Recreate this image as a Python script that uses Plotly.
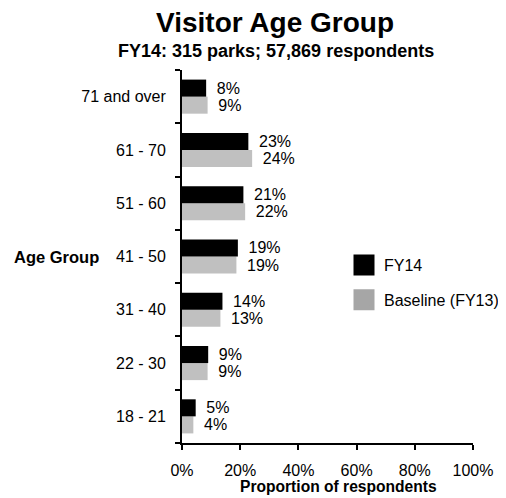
import plotly.graph_objects as go

categories = ["18 - 21", "22 - 30", "31 - 40", "41 - 50", "51 - 60", "61 - 70", "71 and over"]
fy14 = [4.7, 9.0, 13.9, 19.2, 21.1, 22.8, 8.3]
baseline = [3.9, 8.8, 13.2, 18.7, 21.7, 24.1, 8.8]
x_tickvals = [0, 20, 40, 60, 80, 100]
x_ticktext = ["0%", "20%", "40%", "60%", "80%", "100%"]

FONT = "Liberation Sans, Arial, sans-serif"
BAR_GRAY = "#C0C0C0"
LEG_GRAY = "#A6A6A6"

# page body has an 8px margin: figure is drawn at (8, 8) in the screenshot
OFF = 8
W, H = 506 - OFF, 498 - OFF
L, T = 182 - OFF, 70 - OFF
R, B = W - (473 - OFF), H - (443 - OFF)
PW, PH = W - L - R, H - T - B


def px_x(sx):
    return (sx - OFF - L) / PW


def px_y(sy):
    return (H - B - (sy - OFF)) / PH


label_tpl = "\u00a0\u2009%{x:.0f}%"

fig = go.Figure()
fig.add_trace(go.Bar(y=categories, x=baseline, orientation="h", name="Baseline (FY13)",
                     marker=dict(color=BAR_GRAY, line=dict(width=0)), showlegend=False,
                     texttemplate=label_tpl, textposition="outside", cliponaxis=False,
                     textfont=dict(size=16, color="black", family=FONT)))
fig.add_trace(go.Bar(y=categories, x=fy14, orientation="h", name="FY14",
                     marker=dict(color="black", line=dict(width=0)), showlegend=False,
                     texttemplate=label_tpl, textposition="outside", cliponaxis=False,
                     textfont=dict(size=16, color="black", family=FONT)))
# legend entries
fig.add_trace(go.Scatter(x=[None], y=[None], mode="markers", name="FY14", legendgroup="a",
                         marker=dict(symbol="square", size=16, color="black",
                                     line=dict(width=5, color="black"))))
fig.add_trace(go.Scatter(x=[None], y=[None], mode="markers", name="Baseline (FY13)", legendgroup="b",
                         marker=dict(symbol="square", size=16, color=LEG_GRAY,
                                     line=dict(width=5, color=LEG_GRAY))))

fig.update_layout(
    width=W, height=H,
    margin=dict(l=L, r=R, t=T, b=B, autoexpand=False),
    paper_bgcolor="white", plot_bgcolor="white",
    barmode="group", bargap=0.36, bargroupgap=0,
    font=dict(family=FONT, size=16, color="black"),
    showlegend=True,
    legend=dict(x=px_x(344), y=px_y(282.5), xanchor="left", yanchor="middle", traceorder="grouped",
                tracegroupgap=11, font=dict(size=16), bgcolor="rgba(0,0,0,0)"),
    xaxis=dict(range=[0, 100], tickvals=x_tickvals, ticktext=x_ticktext, showgrid=False, zeroline=False,
               showline=True, linecolor="black", linewidth=2, ticks="outside", ticklen=5,
               tickwidth=2, tickcolor="black", tickfont=dict(size=16), automargin=False,
               ticklabelstandoff=7),
    yaxis=dict(type="category", categoryorder="array", categoryarray=categories, showgrid=False,
               showline=True, linecolor="black", linewidth=2, ticks="outside", ticklen=5,
               tickwidth=2, tickcolor="black", tickson="boundaries", tickfont=dict(size=16),
               automargin=False, ticklabelstandoff=11),
    annotations=[
        dict(text="<b>Visitor Age Group</b>", x=px_x(275), y=px_y(22.5), xref="paper", yref="paper",
             xanchor="center", yanchor="middle", showarrow=False, font=dict(size=28)),
        dict(text="<b>FY14: 315 parks; 57,869 respondents</b>", x=px_x(276), y=px_y(51),
             xref="paper", yref="paper", xanchor="center", yanchor="middle", showarrow=False,
             font=dict(size=18)),
        dict(text="<b>Age Group</b>", x=px_x(56), y="41 - 50", xref="paper", yref="y",
             xanchor="center", yanchor="middle", showarrow=False, font=dict(size=16.5)),
        dict(text="<b>Proportion of respondents</b>", x=px_x(338.5), y=px_y(486), xref="paper",
             yref="paper", xanchor="center", yanchor="middle", showarrow=False, font=dict(size=15.6)),
    ],
)
fig.write_html("out.html")
